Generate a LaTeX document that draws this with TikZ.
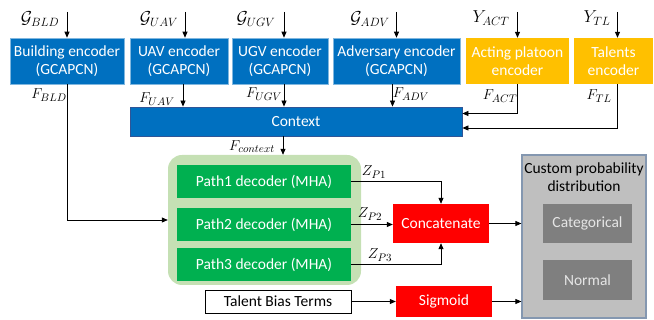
\documentclass[tikz,border=0pt]{standalone}
\usepackage{amsmath}
\usepackage{fontspec}
\setmainfont{Carlito}
\usetikzlibrary{arrows.meta,positioning,calc}
\definecolor{encblue}{HTML}{0070C0}
\definecolor{ctxedge}{HTML}{2F5597}
\definecolor{actgold}{HTML}{FFC000}
\definecolor{decgreen}{HTML}{00B050}
\definecolor{grpgreen}{HTML}{C5E0B4}
\definecolor{opred}{HTML}{FF0000}
\definecolor{distgray}{HTML}{BFBFBF}
\definecolor{distedge}{HTML}{8497B0}
\definecolor{optgray}{HTML}{7F7F7F}

\begin{document}
\begin{tikzpicture}[x=1pt,y=-1pt,
>={Triangle[length=6pt,width=5pt]},
every node/.style={font=\fontsize{15.5}{17.5}\selectfont,inner sep=0pt,align=center},
enc/.style={fill=encblue,draw=encblue!50!white,line width=0.6pt,text=white,minimum height=46pt},
acten/.style={fill=actgold,text=white,minimum height=46pt},
ctx/.style={fill=encblue,draw=ctxedge,line width=0.8pt,text=white},
grp/.style={fill=grpgreen,rounded corners=14pt},
dec/.style={fill=decgreen,text=white,minimum width=174pt,minimum height=33pt},
op/.style={fill=opred,text=white,minimum width=96pt},
dist/.style={fill=distgray,draw=distedge,line width=1.2pt},
opt/.style={fill=optgray,text=white!90!black,minimum width=89pt},
glbl/.style={font=\fontsize{18.5}{20}\selectfont},
flbl/.style={font=\fontsize{15}{17}\selectfont},
wire/.style={->,line width=0.8pt}]
\useasboundingbox (0,0) rectangle (654,320);

\node[enc,minimum width=114pt] (bld) at (67,61) {Building encoder\\(GCAPCN)};
\node[enc,minimum width=98pt] (uav) at (179,61) {UAV encoder\\(GCAPCN)};
\node[enc,minimum width=96pt] (ugv) at (280,61) {UGV encoder\\(GCAPCN)};
\node[enc,minimum width=127pt] (adv) at (396.5,61) {Adversary encoder\\(GCAPCN)};
\node[acten,minimum width=103pt] (act) at (517.5,61) {Acting platoon\\encoder};
\node[acten,minimum width=79pt] (tl) at (613.5,61) {Talents\\encoder};

\node[glbl] (gbld) at (40,19) {$\mathcal{G}_{BLD}$};
\node[glbl] (guav) at (159,19) {$\mathcal{G}_{UAV}$};
\node[glbl] (gugv) at (256,19) {$\mathcal{G}_{UGV}$};
\node[glbl] (gadv) at (370,19) {$\mathcal{G}_{ADV}$};
\node[glbl] (yact) at (491,18) {$Y_{ACT}$};
\node[glbl] (ytl) at (597,18) {$Y_{TL}$};

\coordinate (top) at (0,12);
\draw[wire] (bld.north |- top) -- (bld.north);
\draw[wire] ([xshift=6pt]uav.north |- top) -- ([xshift=6pt]uav.north);
\draw[wire] ([xshift=4pt]ugv.north |- top) -- ([xshift=4pt]ugv.north);
\draw[wire] (adv.north |- top) -- (adv.north);
\draw[wire] (act.north |- top) -- (act.north);
\draw[wire] ([xshift=4pt]tl.north |- top) -- ([xshift=4pt]tl.north);

\node[ctx,minimum width=332pt,minimum height=29pt] (ctx) at (296,121.5) {Context};

\node[flbl] (fbld) at (49,95) {$F_{BLD}$};
\node[flbl] (fuav) at (157,99) {$F_{UAV}$};
\node[flbl] (fugv) at (264,94) {$F_{UGV}$};
\node[flbl] (fadv) at (411,94) {$F_{ADV}$};
\node[flbl] (fact) at (500,96) {$F_{ACT}$};
\node[flbl] (ftl) at (599,96) {$F_{TL}$};

\draw[wire] ([xshift=4pt]uav.south) -- ([xshift=4pt]uav.south |- ctx.north);
\draw[wire] ([xshift=4pt]ugv.south) -- ([xshift=4pt]ugv.south |- ctx.north);
\draw[wire] ([xshift=-4pt]adv.south) -- ([xshift=-4pt]adv.south |- ctx.north);
\draw[wire] (act.south) |- ([yshift=8pt]ctx.east);
\draw[wire] ([xshift=4pt]tl.south) |- ([yshift=-6.5pt]ctx.east);

\node[grp,minimum width=193pt,minimum height=130pt] (grn) at (264.5,220) {};
\node[dec] (p1) at (264,181.5) {Path1 decoder (MHA)};
\node[dec] (p2) at (264,224.5) {Path2 decoder (MHA)};
\node[dec] (p3) at (264,264.5) {Path3 decoder (MHA)};

\draw[wire] (bld.south) |- (grn.west);
\draw[wire] ([xshift=-13pt]ctx.south) -- ([xshift=-13pt]ctx.south |- grn.north);
\node[flbl] (fctx) at (252,147) {$F_{context}$};

\node[op,minimum height=39pt] (cat) at (441,223.5) {Concatenate};
\draw[wire] (p1.east) -| (cat.north);
\draw[wire] (p2.east) -- (p2.east -| cat.west);
\draw[wire] (p3.east) -| (cat.south);
\node[flbl] (zp1) at (374,172) {$Z_{P1}$};
\node[flbl] (zp2) at (370,214) {$Z_{P2}$};
\node[flbl] (zp3) at (380,255) {$Z_{P3}$};

\node[draw,line width=0.6pt,minimum width=146pt,minimum height=23pt] (tbt) at (278,301.5) {Talent Bias Terms};
\node[op,minimum height=31pt] (sig) at (444,301.5) {Sigmoid};
\draw[wire] (tbt) -- (sig);

\node[dist,minimum width=124pt,minimum height=163pt] (cpd) at (584,236.5) {};
\node (cpdt) at (584,177) {Custom probability\\distribution};
\node[opt,minimum height=39pt] (catg) at (587.5,223.5) {Categorical};
\node[opt,minimum height=40pt] (nrm) at (587.5,280) {Normal};

\draw[wire] (cat.east) -- (cat.east -| cpd.west);
\draw[wire] (sig.east) -- (sig.east -| cpd.west);
\end{tikzpicture}
\end{document}
